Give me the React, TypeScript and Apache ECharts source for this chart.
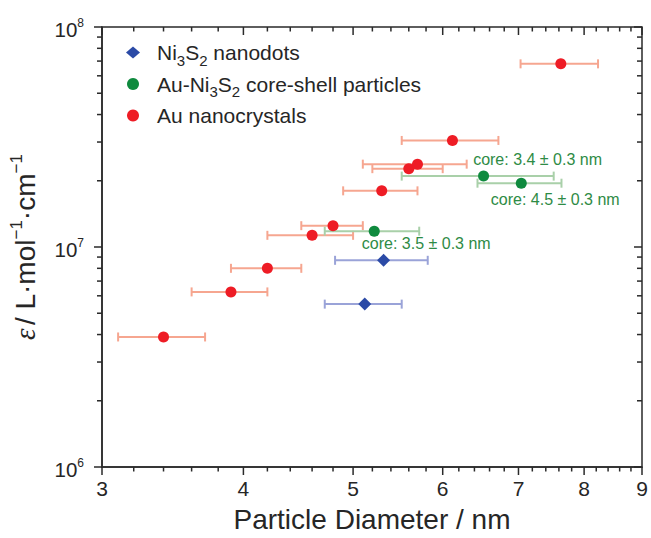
import React, { useEffect, useRef } from "react";
import * as echarts from "echarts";

const FONT = '"Liberation Sans", Arial, Helvetica, sans-serif';

// Tick values
const X_MAJOR = [3, 4, 5, 6, 7, 8, 9];
const X_MINOR = [3.2, 3.4, 3.6, 3.8, 4.2, 4.4, 4.6, 4.8, 5.2, 5.4, 5.6, 5.8, 6.2, 6.4, 6.6, 6.8, 7.2, 7.4, 7.6, 7.8, 8.2, 8.4, 8.6, 8.8];
const Y_MAJOR = [1e6, 1e7, 1e8];
const Y_MAJOR_EXP = [6, 7, 8];
const Y_MINOR = [2e6, 3e6, 4e6, 5e6, 6e6, 7e6, 8e6, 9e6, 2e7, 3e7, 4e7, 5e7, 6e7, 7e7, 8e7, 9e7];

// Ni3S2 nanodots
const NI_X = [5.32, 5.12];
const NI_Y = [8.7e6, 5.5e6];
const NI_ERR = [0.5, 0.4];

// Au-Ni3S2 core-shell particles
const CS_X = [5.22, 6.52, 7.04];
const CS_Y = [1.18e7, 2.1e7, 1.95e7];
const CS_ERR = [0.5, 1.0, 0.6];
const CS_NOTES = ["core: 3.5 ± 0.3 nm", "core: 3.4 ± 0.3 nm", "core: 4.5 ± 0.3 nm"];

// Au nanocrystals
const AU_X = [3.4, 3.9, 4.2, 4.6, 4.8, 5.3, 5.6, 5.7, 6.12, 7.63];
const AU_Y = [3.9e6, 6.25e6, 8.0e6, 1.13e7, 1.25e7, 1.8e7, 2.27e7, 2.38e7, 3.05e7, 6.8e7];
const AU_ERR = [0.3, 0.3, 0.3, 0.4, 0.3, 0.4, 0.4, 0.6, 0.6, 0.6];

const NAMES = ["Ni3S2 nanodots", "Au-Ni3S2 core-shell particles", "Au nanocrystals"];
const LEGEND_RICH: Record<string, string> = {
  "Ni3S2 nanodots": "{m|Ni}{s|3}{m|S}{s|2}{m| nanodots}",
  "Au-Ni3S2 core-shell particles": "{m|Au-Ni}{s|3}{m|S}{s|2}{m| core-shell particles}",
  "Au nanocrystals": "{m|Au nanocrystals}",
};

const NOTE_OFFSETS = [[52, 12], [54, -17], [34, 16]];

const TXT = "#262626";
const AXIS = "#2a2a2a";

function errSeries(name: string, xs: number[], ys: number[], errs: number[], color: string) {
  return {
    type: "custom",
    name: name + "-err",
    z: 1,
    silent: true,
    encode: { x: [0, 2, 3], y: 1 },
    data: xs.map((x, i) => [x, ys[i], x - errs[i], x + errs[i]]),
    renderItem: (params: any, api: any) => {
      const y = api.value(1);
      const a = api.coord([api.value(2), y]);
      const b = api.coord([api.value(3), y]);
      const st = { stroke: color, lineWidth: 2 };
      return {
        type: "group",
        children: [
          { type: "line", shape: { x1: a[0], y1: a[1], x2: b[0], y2: b[1] }, style: st },
          { type: "line", shape: { x1: a[0], y1: a[1] - 4.5, x2: a[0], y2: a[1] + 4.5 }, style: st },
          { type: "line", shape: { x1: b[0], y1: b[1] - 4.5, x2: b[0], y2: b[1] + 4.5 }, style: st },
        ],
      };
    },
  };
}

export default function App() {
  const ref = useRef<HTMLDivElement>(null);
  useEffect(() => {
    const chart = echarts.init(ref.current!, null, { renderer: "svg" });

    const option: any = {
      animation: false,
      backgroundColor: "#ffffff",
      textStyle: { fontFamily: FONT },
      grid: {
        left: 101,
        right: 9,
        top: 27,
        bottom: 71,
        show: true,
        borderColor: AXIS,
        borderWidth: 1.5,
        backgroundColor: "transparent",
      },
      legend: {
        orient: "vertical",
        left: 121,
        top: 37,
        itemWidth: 14,
        itemHeight: 12,
        itemGap: 6,
        data: [
          { name: NAMES[0], icon: "diamond" },
          { name: NAMES[1], icon: "circle" },
          { name: NAMES[2], icon: "circle" },
        ],
        formatter: (name: string) => LEGEND_RICH[name] || name,
        textStyle: {
          color: TXT,
          fontFamily: FONT,
          padding: [0, 0, 0, 12],
          rich: {
            m: { fontSize: 21, lineHeight: 30, fontFamily: FONT, color: TXT },
            s: { fontSize: 15, lineHeight: 15, verticalAlign: "bottom", fontFamily: FONT, color: TXT },
          },
        },
      },
      xAxis: {
        type: "log",
        logBase: 10,
        min: 3,
        max: 9,
        axisLine: { show: true, lineStyle: { color: AXIS, width: 1.5 } },
        axisTick: { show: false },
        axisLabel: { show: false },
        splitLine: { show: false },
        minorTick: { show: false },
        name: "Particle Diameter / nm",
        nameLocation: "middle",
        nameGap: 38,
        nameTextStyle: { fontSize: 28, color: TXT, fontFamily: FONT, verticalAlign: "top" },
      },
      yAxis: {
        type: "log",
        logBase: 10,
        min: 1e6,
        max: 1e8,
        axisLine: { show: true, lineStyle: { color: AXIS, width: 1.5 } },
        axisTick: { show: false },
        axisLabel: { show: false },
        splitLine: { show: false },
        minorTick: { show: false },
        name: "{i|ε} {m|/ L·mol}{s|−1}{m|·cm}{s|−1}",
        nameLocation: "middle",
        nameGap: 60,
        nameRotate: 90,
        nameTextStyle: {
          color: TXT,
          fontFamily: FONT,
          rich: {
            i: { fontSize: 29, fontStyle: "italic", fontFamily: '"Liberation Serif", "DejaVu Serif", serif', lineHeight: 34, color: TXT },
            m: { fontSize: 28, lineHeight: 34, fontFamily: FONT, color: TXT },
            s: { fontSize: 17, lineHeight: 14, verticalAlign: "top", fontFamily: FONT, color: TXT },
          },
        },
      },
      series: [
        // x axis labels
        {
          type: "custom",
          name: "xlabels",
          silent: true,
          clip: false,
          z: 10,
          encode: { x: 0, y: 1 },
          data: X_MAJOR.map((v) => [v, 1e6]),
          renderItem: (params: any, api: any) => {
            const v = api.value(0);
            const pb = api.coord([v, 1e6]);
            return {
              type: "text",
              x: pb[0],
              y: pb[1] + 11,
              style: {
                text: String(v),
                fill: TXT,
                fontSize: 21,
                fontFamily: FONT,
                align: "center",
                verticalAlign: "top",
              },
            };
          },
        },
        // y axis labels
        {
          type: "custom",
          name: "ylabels",
          silent: true,
          clip: false,
          z: 10,
          encode: { x: 0, y: 1 },
          data: Y_MAJOR.map((v, i) => [3, v, Y_MAJOR_EXP[i]]),
          renderItem: (params: any, api: any) => {
            const pl = api.coord([3, api.value(1)]);
            const exp = api.value(2);
            return {
              type: "text",
              x: pl[0] - 18,
              y: pl[1] + 2,
              style: {
                text: "{m|10}{s|" + exp + "}",
                align: "right",
                verticalAlign: "middle",
                rich: {
                  m: { fontSize: 20.5, lineHeight: 24, fontFamily: FONT, fill: TXT, color: TXT },
                  s: { fontSize: 12, lineHeight: 8, verticalAlign: "top", fontFamily: FONT, fill: TXT, color: TXT },
                },
              },
            };
          },
        },
        errSeries(NAMES[2], AU_X, AU_Y, AU_ERR, "#f6a690"),
        errSeries(NAMES[1], CS_X, CS_Y, CS_ERR, "#a9d0a9"),
        errSeries(NAMES[0], NI_X, NI_Y, NI_ERR, "#9aa3d8"),
        {
          type: "scatter",
          name: NAMES[2],
          z: 3,
          symbol: "circle",
          symbolSize: 11,
          itemStyle: { color: "#ee1c25", opacity: 1 },
          data: AU_X.map((x, i) => [x, AU_Y[i]]),
        },
        {
          type: "scatter",
          name: NAMES[1],
          z: 3,
          symbol: "circle",
          symbolSize: 11,
          itemStyle: { color: "#0f8a3e", opacity: 1 },
          data: CS_X.map((x, i) => ({
            value: [x, CS_Y[i]],
            label: {
              show: true,
              position: "inside",
              offset: NOTE_OFFSETS[i],
              formatter: CS_NOTES[i],
              color: "#2e8b45",
              fontSize: 16,
              fontFamily: FONT,
            },
          })),
        },
        {
          type: "scatter",
          name: NAMES[0],
          z: 3,
          symbol: "diamond",
          symbolSize: 13,
          itemStyle: { color: "#2b4aa6", opacity: 1 },
          data: NI_X.map((x, i) => [x, NI_Y[i]]),
        },
      ],
    };
    chart.setOption(option);

    // Axis ticks placed through the chart's own log scales
    const px = (x: number, y: number) =>
      chart.convertToPixel({ xAxisIndex: 0, yAxisIndex: 0 }, [x, y]) as number[];
    const tickStyle = { stroke: AXIS, lineWidth: 1.5 };
    const els: any[] = [];
    const addX = (v: number, len: number) => {
      const b = px(v, 1e6);
      const t = px(v, 1e8);
      els.push({ type: "line", silent: true, z: 100, shape: { x1: b[0], y1: b[1], x2: b[0], y2: b[1] + len }, style: tickStyle });
      els.push({ type: "line", silent: true, z: 100, shape: { x1: t[0], y1: t[1], x2: t[0], y2: t[1] + len }, style: tickStyle });
    };
    const addY = (v: number, len: number) => {
      const l = px(3, v);
      const r = px(9, v);
      els.push({ type: "line", silent: true, z: 100, shape: { x1: l[0], y1: l[1], x2: l[0] - len, y2: l[1] }, style: tickStyle });
      els.push({ type: "line", silent: true, z: 100, shape: { x1: r[0], y1: r[1], x2: r[0] - len, y2: r[1] }, style: tickStyle });
    };
    X_MAJOR.forEach((v) => addX(v, 8));
    X_MINOR.forEach((v) => addX(v, 4.5));
    Y_MAJOR.forEach((v) => addY(v, 8));
    Y_MINOR.forEach((v) => addY(v, 5));
    chart.setOption({ graphic: { elements: els } });

    return () => chart.dispose();
  }, []);
  return (
    <div
      ref={ref}
      style={{ position: "absolute", left: 0, top: 0, width: 651, height: 538 }}
    />
  );
}
